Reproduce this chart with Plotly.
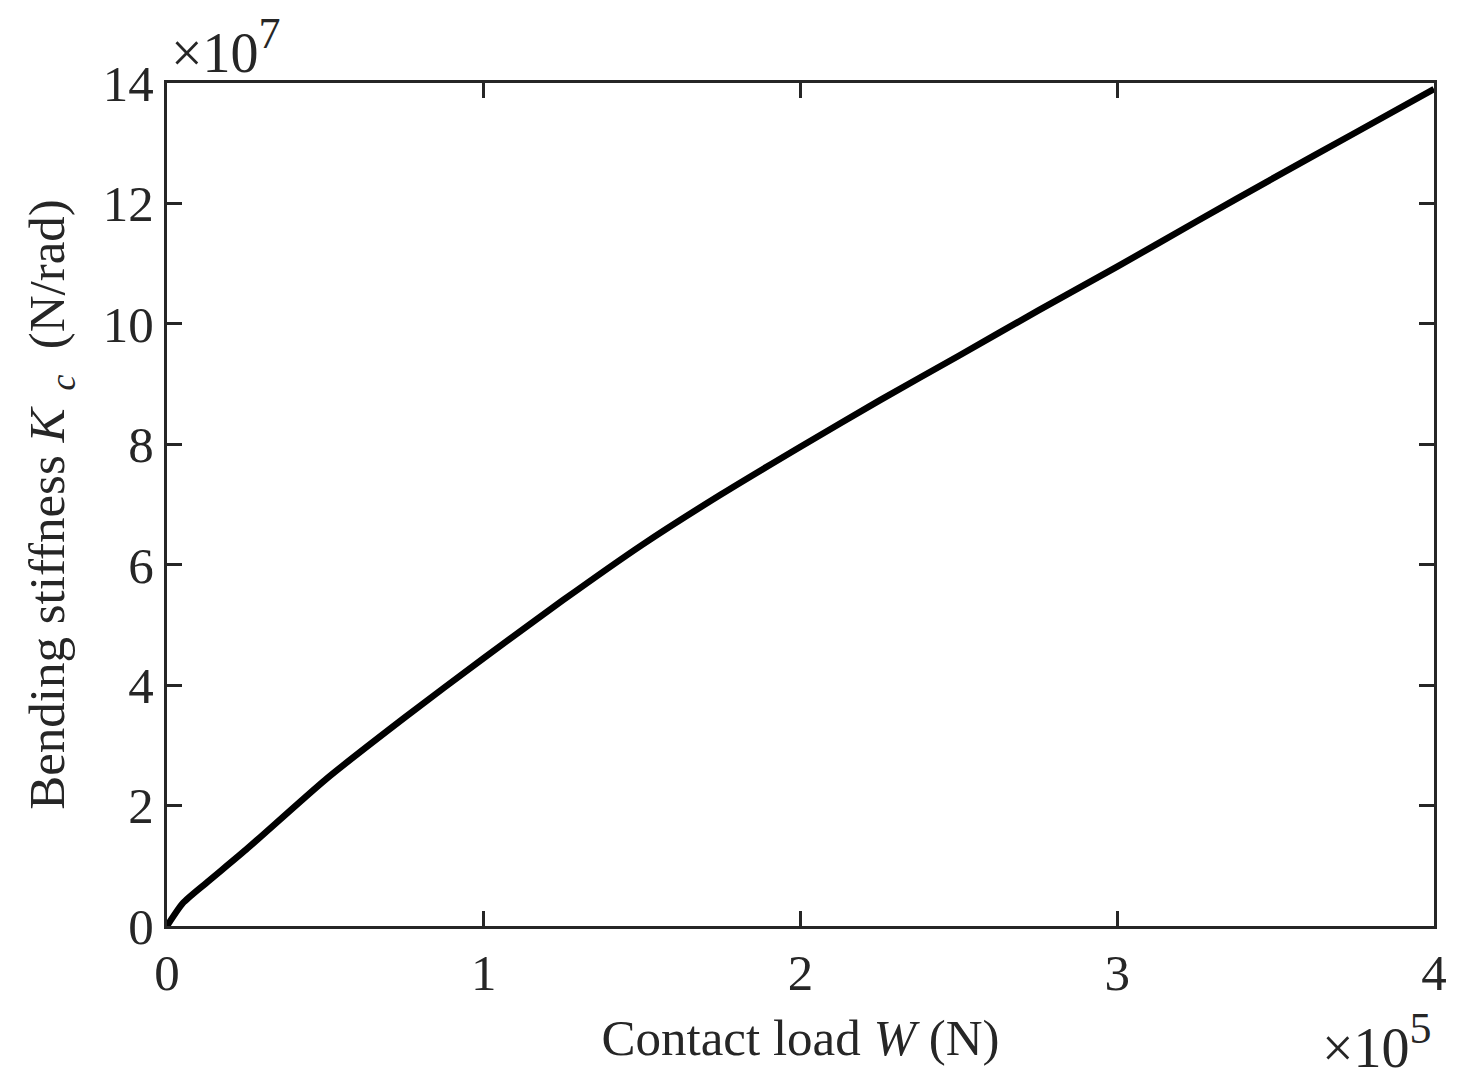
import plotly.graph_objects as go

# contact load W (x10^5 N) and bending stiffness Kc (x10^7 N/rad)
load_w = [0, 0.05, 0.125, 0.25, 0.5, 0.75, 1.0, 1.25, 1.5, 1.75, 2.0,
          2.25, 2.5, 2.75, 3.0, 3.25, 3.5, 3.75, 4.0]
stiff_kc = [0, 0.38, 0.72, 1.27, 2.43, 3.46, 4.45, 5.41, 6.33, 7.17, 7.96,
            8.73, 9.47, 10.22, 10.95, 11.70, 12.44, 13.17, 13.90]

x_ticks = [0, 1, 2, 3, 4]
y_ticks = [0, 2, 4, 6, 8, 10, 12, 14]

ink = "#262626"
serif = "Liberation Serif"
fsize = 51

fig = go.Figure()
fig.add_trace(go.Scatter(x=load_w, y=stiff_kc, mode="lines",
                         line=dict(color="black", width=6.5, shape="spline", smoothing=0.6),
                         showlegend=False))

axis_common = dict(showline=True, linecolor=ink, linewidth=3, mirror="ticks",
                   ticks="inside", ticklen=15, tickwidth=2.5, tickcolor=ink,
                   showgrid=False, zeroline=False,
                   tickfont=dict(family=serif, size=fsize, color=ink))

fig.update_xaxes(range=[0, 4], tickvals=x_ticks, ticktext=[str(t) for t in x_ticks],
                 title=dict(text="Contact load <i>W</i> (N)", standoff=20,
                            font=dict(family=serif, size=fsize, color=ink)),
                 **axis_common)
fig.update_yaxes(range=[0, 14], tickvals=y_ticks, ticktext=[str(t) for t in y_ticks],
                 title=dict(text="Bending stiffness <i>K</i><sub>  <i>c</i></sub>  (N/rad)",
                            standoff=22, font=dict(family=serif, size=fsize, color=ink)),
                 **axis_common)

exp_font = dict(family=serif, size=56, color=ink)
fig.add_annotation(text="×10<sup><span style='font-size:44px'>7</span></sup>",
                   xref="paper", yref="paper", x=0.0, y=1.0,
                   xanchor="left", yanchor="bottom", xshift=2, yshift=-3, showarrow=False,
                   font=exp_font)
fig.add_annotation(text="×10<sup><span style='font-size:44px'>5</span></sup>",
                   xref="paper", yref="paper", x=1.0, y=0.0,
                   xanchor="right", yanchor="top", yshift=-76, showarrow=False,
                   font=exp_font)

# page body has an 8px margin, so the figure is shrunk by that much
fig.update_layout(width=1452, height=1077, template="plotly_white",
                  paper_bgcolor="white", plot_bgcolor="white",
                  margin=dict(l=159, r=26, t=75, b=159))

fig.write_html("out.html")
